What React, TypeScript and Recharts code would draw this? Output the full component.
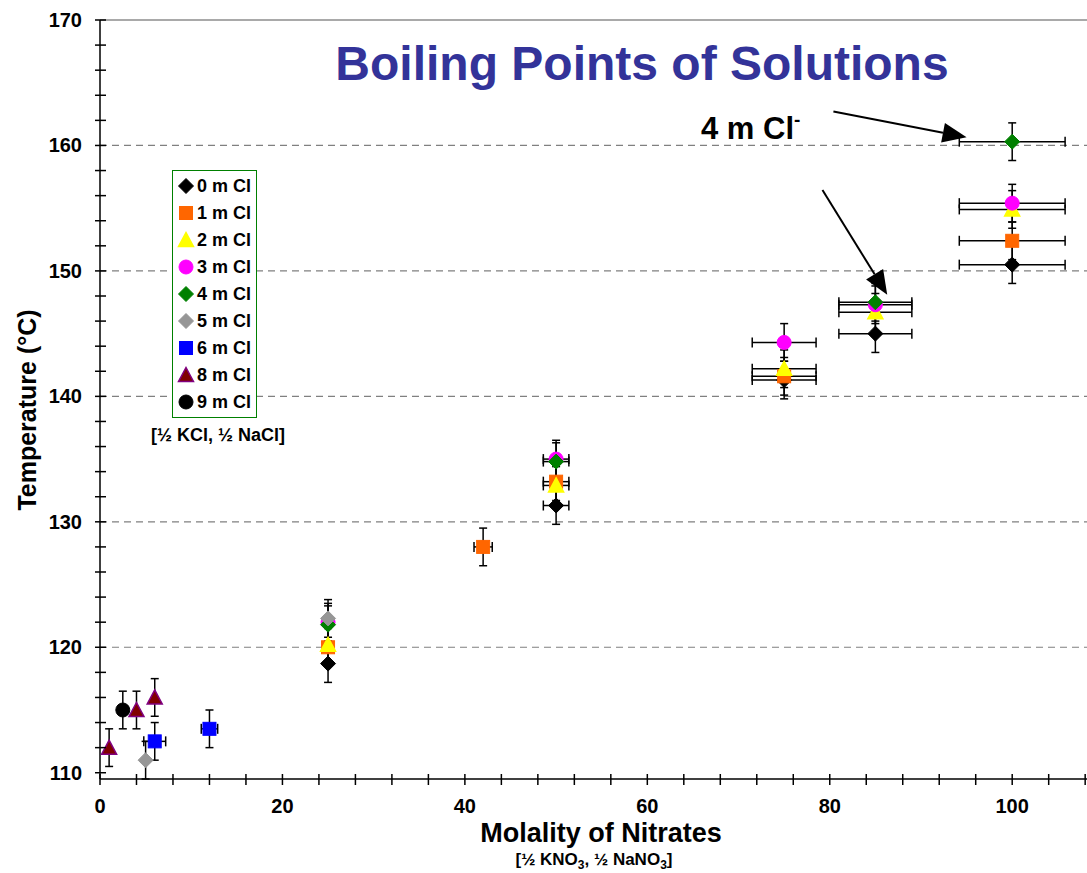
import React from 'react';
import { ScatterChart, Scatter, XAxis, YAxis, ErrorBar, ReferenceLine } from 'recharts';

// ---- data ----
const seriesNames = ['0 m Cl', '1 m Cl', '2 m Cl', '3 m Cl', '4 m Cl', '5 m Cl', '6 m Cl', '8 m Cl', '9 m Cl'];

const cl0X = [25, 50, 75, 85, 100];
const cl0Y = [118.7, 131.3, 141.3, 145.0, 150.5];
const cl0Ex = [null, 1.4, 3.5, 4, 5.8];

const cl1X = [25, 42, 50, 75, 100];
const cl1Y = [120.0, 128.0, 133.2, 141.6, 152.4];
const cl1Ex = [null, 1, 1.4, 3.5, 5.8];

const cl2X = [25, 50, 75, 85, 100];
const cl2Y = [120.2, 132.9, 142.2, 146.7, 154.9];
const cl2Ex = [null, 1.4, 3.5, 4, 5.8];

const cl3X = [25, 50, 75, 85, 100];
const cl3Y = [122.0, 135.0, 144.3, 147.3, 155.4];
const cl3Ex = [null, 1.4, 3.5, 4, 5.8];

const cl4X = [25, 50, 85, 100];
const cl4Y = [121.8, 134.8, 147.5, 160.3];
const cl4Ex = [null, 1.4, 4, 5.8];

const cl5X = [5, 25];
const cl5Y = [111.0, 122.3];
const cl5Ex = [null, null];

const cl6X = [6, 12];
const cl6Y = [112.5, 113.5];
const cl6Ex = [1.2, 0.9];

const cl8X = [1, 4, 6];
const cl8Y = [112.0, 115.0, 116.0];
const cl8Ex = [null, null, null];

const cl9X = [2.5];
const cl9Y = [115.0];
const cl9Ex = [null];

const yErr = 1.5;

const xTicks = [0, 4, 8, 12, 16, 20, 24, 28, 32, 36, 40, 44, 48, 52, 56, 60, 64, 68, 72, 76, 80, 84, 88, 92, 96, 100, 104, 108];
const yTicks = [110, 112, 114, 116, 118, 120, 122, 124, 126, 128, 130, 132, 134, 136, 138, 140, 142, 144, 146, 148, 150, 152, 154, 156, 158, 160, 162, 164, 166, 168, 170];
const dashedGrid = [120, 130, 140, 150, 160];

// annotation arrows [x1, y1, x2, y2] in data units
const arrow1 = [80.4, 162.7, 95.0, 160.65];
const arrow2 = [79.2, 156.45, 86.3, 148.1];

const build = (xs: number[], ys: number[], exs: (number | null)[]) =>
  xs.map((x, i) => ({ x, y: ys[i], ex: exs[i], ey: yErr }));

type Style = { kind: string; fill: string; stroke: string };
const styles: Style[] = [
  { kind: 'diamond', fill: '#000000', stroke: '#000000' },
  { kind: 'square', fill: '#FF6600', stroke: '#FF6600' },
  { kind: 'triangle', fill: '#FFFF00', stroke: '#FFFF00' },
  { kind: 'circle', fill: '#FF00FF', stroke: '#FF00FF' },
  { kind: 'diamond', fill: '#008000', stroke: '#008000' },
  { kind: 'diamond', fill: '#969696', stroke: '#969696' },
  { kind: 'square', fill: '#0000FF', stroke: '#0000FF' },
  { kind: 'triangle', fill: '#800000', stroke: '#800080' },
  { kind: 'circle', fill: '#000000', stroke: '#000000' },
];

const seriesData = [
  build(cl0X, cl0Y, cl0Ex),
  build(cl1X, cl1Y, cl1Ex),
  build(cl2X, cl2Y, cl2Ex),
  build(cl3X, cl3Y, cl3Ex),
  build(cl4X, cl4Y, cl4Ex),
  build(cl5X, cl5Y, cl5Ex),
  build(cl6X, cl6Y, cl6Ex),
  build(cl8X, cl8Y, cl8Ex),
  build(cl9X, cl9Y, cl9Ex),
];

const FONT = '"Liberation Sans", Arial, sans-serif';

const marker = (st: Style, cx: number, cy: number) => {
  const sw = 1;
  if (st.kind === 'diamond') {
    const r = 7.5;
    return <polygon points={`${cx},${cy - r} ${cx + r},${cy} ${cx},${cy + r} ${cx - r},${cy}`} fill={st.fill} stroke={st.stroke} strokeWidth={sw} />;
  }
  if (st.kind === 'square') {
    const h = 6.5;
    return <rect x={cx - h} y={cy - h} width={2 * h} height={2 * h} fill={st.fill} stroke={st.stroke} strokeWidth={sw} />;
  }
  if (st.kind === 'triangle') {
    const h = 7.5;
    return <polygon points={`${cx},${cy - h} ${cx + h},${cy + 6.5} ${cx - h},${cy + 6.5}`} fill={st.fill} stroke={st.stroke} strokeWidth={1.5} />;
  }
  return <circle cx={cx} cy={cy} r={7} fill={st.fill} stroke={st.stroke} strokeWidth={sw} />;
};

const makeShape = (st: Style) => (props: any) => {
  const { cx, cy } = props;
  if (cx == null || cy == null) return <g />;
  return marker(st, cx, cy);
};

const YTick = (props: any) => {
  const { x, y, payload } = props;
  const ax = x + 18;
  const v = payload.value;
  return (
    <g>
      <line x1={ax - 5} x2={ax + 6} y1={y} y2={y} stroke="#000" strokeWidth={1.5} />
      {v % 10 === 0 && (
        <text x={x} y={y + 7} textAnchor="end" fontFamily={FONT} fontWeight="bold" fontSize={20} fill="#000">
          {v}
        </text>
      )}
    </g>
  );
};

const XTick = (props: any) => {
  const { x, y, payload } = props;
  const v = payload.value;
  return (
    <g>
      <line x1={x} x2={x} y1={y - 5} y2={y + 6} stroke="#000" strokeWidth={1.5} />
      {v % 20 === 0 && (
        <text x={x} y={y + 34} textAnchor="middle" fontFamily={FONT} fontWeight="bold" fontSize={20} fill="#000">
          {v}
        </text>
      )}
    </g>
  );
};

const arrowShape = (props: any) => {
  const { x1, y1, x2, y2 } = props;
  const dx = x2 - x1;
  const dy = y2 - y1;
  const len = Math.sqrt(dx * dx + dy * dy);
  const ux = dx / len;
  const uy = dy / len;
  const hl = 24;
  const hw = 10;
  const bx = x2 - ux * hl;
  const by = y2 - uy * hl;
  return (
    <g>
      <line x1={x1} y1={y1} x2={bx} y2={by} stroke="#000" strokeWidth={2} />
      <polygon
        points={`${x2},${y2} ${bx - uy * hw},${by + ux * hw} ${bx + uy * hw},${by - ux * hw}`}
        fill="#000"
      />
    </g>
  );
};

const LegendBox = () => (
  <div
    style={{
      position: 'absolute',
      left: 172,
      top: 170,
      border: '1.5px solid #008000',
      background: '#fff',
      width: 83,
      padding: '1px 0 1px 0',
    }}
  >
    {seriesNames.map((n, i) => (
      <div key={n} style={{ display: 'flex', alignItems: 'center', height: 27.1 }}>
        <svg width={24} height={20} style={{ display: 'block' }}>
          {marker(styles[i], 13, 10)}
        </svg>
        <span style={{ fontFamily: FONT, fontWeight: 'bold', fontSize: 18, color: '#000', lineHeight: '20px' }}>{n}</span>
      </div>
    ))}
  </div>
);

export default function App() {
  return (
    <div style={{ position: 'absolute', left: 0, top: 0, width: 1087, height: 873, background: '#fff' }}>
      <ScatterChart width={1087} height={873} margin={{ top: 20, right: 0, bottom: 0, left: 0 }}>
        <XAxis
          type="number"
          dataKey="x"
          domain={[0, 108.2]}
          ticks={xTicks}
          interval={0}
          height={94}
          tickLine={false}
          tickSize={0}
          tickMargin={0}
          tick={<XTick />}
          axisLine={{ stroke: '#000', strokeWidth: 1.5 }}
        />
        <YAxis
          type="number"
          dataKey="y"
          domain={[110, 170]}
          ticks={yTicks}
          interval={0}
          width={100}
          tickLine={false}
          tickSize={0}
          tickMargin={18}
          tick={<YTick />}
          axisLine={{ stroke: '#000', strokeWidth: 1.5 }}
        />
        <ReferenceLine y={170} stroke="#8c8c8c" strokeWidth={1.5} />
        {dashedGrid.map((v) => (
          <ReferenceLine key={v} y={v} stroke="#808080" strokeWidth={1.2} strokeDasharray="7 5" />
        ))}
        {seriesData.map((d, i) => (
          <Scatter
            key={seriesNames[i]}
            name={seriesNames[i]}
            data={d}
            isAnimationActive={false}
            shape={makeShape(styles[i])}
          >
            <ErrorBar dataKey="ex" direction="x" width={5} stroke="#000" strokeWidth={1.5} />
            <ErrorBar dataKey="ey" direction="y" width={4} stroke="#000" strokeWidth={1.5} />
          </Scatter>
        ))}
        <ReferenceLine
          segment={[{ x: arrow1[0], y: arrow1[1] }, { x: arrow1[2], y: arrow1[3] }]}
          shape={arrowShape}
        />
        <ReferenceLine
          segment={[{ x: arrow2[0], y: arrow2[1] }, { x: arrow2[2], y: arrow2[3] }]}
          shape={arrowShape}
        />
      </ScatterChart>
      <LegendBox />
      <svg
        width={1087}
        height={873}
        style={{ position: 'absolute', left: 0, top: 0, pointerEvents: 'none' }}
      >
        <text x={642} y={80} textAnchor="middle" fontFamily={FONT} fontWeight="bold" fontSize={48} fill="#333399">
          Boiling Points of Solutions
        </text>
        <text x={701} y={139} fontFamily={FONT} fontWeight="bold" fontSize={31} fill="#000">
          4 m Cl<tspan dy={-13} fontSize={19}>-</tspan>
        </text>
        <text x={218} y={441} textAnchor="middle" fontFamily={FONT} fontWeight="bold" fontSize={18} fill="#000">
          [½ KCl, ½ NaCl]
        </text>
        <text
          x={0}
          y={0}
          transform="translate(36 410) rotate(-90)"
          textAnchor="middle"
          fontFamily={FONT}
          fontWeight="bold"
          fontSize={25}
          fill="#000"
        >
          Temperature (°C)
        </text>
        <text x={601} y={842} textAnchor="middle" fontFamily={FONT} fontWeight="bold" fontSize={27} fill="#000">
          Molality of Nitrates
        </text>
        <text x={594} y={865} textAnchor="middle" fontFamily={FONT} fontWeight="bold" fontSize={17} fill="#000">
          [½ KNO<tspan dy={4} fontSize={12}>3</tspan><tspan dy={-4}>, ½ NaNO</tspan><tspan dy={4} fontSize={12}>3</tspan><tspan dy={-4}>]</tspan>
        </text>
      </svg>
    </div>
  );
}
